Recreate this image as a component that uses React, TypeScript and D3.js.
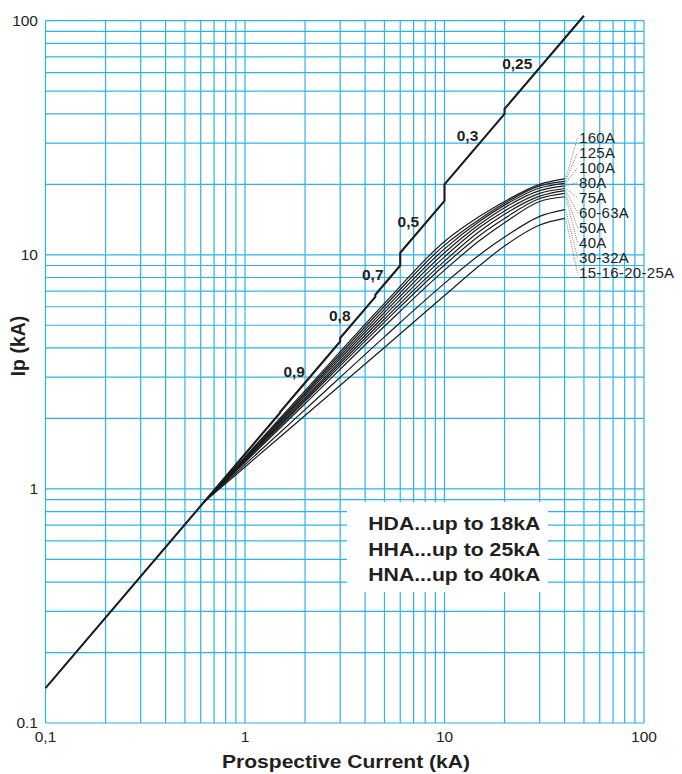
import React from "react";
import * as d3 from "d3";

// Prospective short-circuit current thresholds (kA) and the peak factor n = Ip / Irms in each band
const pfBreaks = [0.1, 1.5, 3, 4.5, 6, 10, 20, 50];
const pfPeakFactor = [1.41, 1.42, 1.47, 1.5, 1.7, 2.0, 2.1];
// Power-factor annotation for each band (first band is unlabelled)
const pfLabels = ["", "0,9", "0,8", "0,7", "0,5", "0,3", "0,25"];

// Cut-off characteristics: let-through peak current Ip (kA) vs prospective current (kA)
const fuseCurrents = [0.62, 1, 2, 5, 10, 15, 20, 30, 40];
const fuseRatings = ["160A", "125A", "100A", "80A", "75A", "60-63A", "50A", "40A", "30-32A", "15-16-20-25A"];
const peak160 = [0.875, 1.37, 2.63, 6.2, 11.4, 14.6, 16.9, 20.0, 21.1];
const peak125 = [0.875, 1.36, 2.58, 6.03, 11.0, 14.2, 16.6, 19.7, 20.6];
const peak100 = [0.875, 1.35, 2.54, 5.85, 10.6, 13.9, 16.3, 19.3, 20.2];
const peak80 = [0.875, 1.34, 2.5, 5.67, 10.2, 13.5, 15.9, 18.8, 19.7];
const peak75 = [0.875, 1.33, 2.45, 5.49, 9.8, 13.1, 15.4, 18.3, 19.2];
const peak63 = [0.875, 1.32, 2.41, 5.32, 9.4, 12.6, 14.9, 17.8, 18.8];
const peak50 = [0.875, 1.31, 2.37, 5.16, 9.05, 12.1, 14.3, 17.4, 18.3];
const peak40 = [0.875, 1.3, 2.31, 4.95, 8.6, 11.5, 13.7, 16.9, 17.7];
const peak32 = [0.875, 1.27, 2.18, 4.46, 7.55, 10.0, 11.9, 14.6, 15.6];
const peak25 = [0.875, 1.24, 2.06, 4.02, 6.7, 9.0, 10.9, 13.4, 14.3];
const fusePeaks = [peak160, peak125, peak100, peak80, peak75, peak63, peak50, peak40, peak32, peak25];

// Axis tick labels
const xTickValues = [0.1, 1, 10, 100];
const xTickLabels = ["0,1", "1", "10", "100"];
const yTickValues = [0.1, 1, 10, 100];
const yTickLabels = ["0.1", "1", "10", "100"];

const legendLines = ["HDA...up to 18kA", "HHA...up to 25kA", "HNA...up to 40kA"];

const W = 682;
const H = 774;
const FONT = "'Liberation Sans', Arial, Helvetica, sans-serif";
const INK = "#231f20";
const GRID = "#2cb4e8";

// Pixel nudges for the power-factor labels, relative to the geometric middle of each band
const pfLabelOffsets: [number, number][] = [
  [0, 0],
  [-16, 0],
  [-18, 4],
  [-15, 0],
  [-14, 0],
  [-7, -8],
  [-27, 7],
];

export default function App() {
  const x = d3.scaleLog().domain([0.1, 100]).range([45.5, 644]);
  const y = d3.scaleLog().domain([0.1, 100]).range([723, 20.7]);

  const gridTicks = x.ticks();
  const yGridTicks = y.ticks();

  // Stepped prospective peak line
  const stepPts: [number, number][] = [];
  for (let i = 0; i < pfPeakFactor.length; i++) {
    const a = pfBreaks[i];
    const b = pfBreaks[i + 1];
    stepPts.push([a, a * pfPeakFactor[i]]);
    stepPts.push([b, b * pfPeakFactor[i]]);
  }
  const stepLine = d3
    .line<[number, number]>()
    .x((d) => x(d[0]))
    .y((d) => y(d[1]));

  const fuseLine = d3
    .line<[number, number]>()
    .x((d) => x(d[0]))
    .y((d) => y(d[1]))
    .curve(d3.curveMonotoneX);

  const labelX = 579;
  const labelBase = 142.7;
  const labelStep = 15;

  return (
    <svg
      width={W}
      height={H}
      viewBox={`0 0 ${W} ${H}`}
      style={{ position: "absolute", left: 0, top: 0, display: "block", background: "#fff" }}
    >
      <rect width={W} height={H} fill="#fff" />

      {/* grid */}
      <g stroke={GRID} strokeWidth={1.2}>
        {gridTicks.map((t, i) => (
          <line key={"vx" + i} x1={x(t)} x2={x(t)} y1={y(100)} y2={y(0.1)} />
        ))}
        {yGridTicks.map((t, i) => (
          <line key={"hy" + i} x1={x(0.1)} x2={x(100)} y1={y(t)} y2={y(t)} />
        ))}
      </g>

      {/* legend panel */}
      <rect x={347} y={502} width={201} height={90} fill="#fff" />
      <g fontFamily={FONT} fontWeight="bold" fontSize={18.6} fill={INK}>
        {legendLines.map((s, i) => (
          <text key={s} x={368.3} y={530 + i * 25.5} textLength={172} lengthAdjust="spacingAndGlyphs">
            {s}
          </text>
        ))}
      </g>

      {/* fuse cut-off curves */}
      <g fill="none" stroke="#1b1b1b" strokeWidth={1.2} strokeLinejoin="round">
        {fusePeaks.map((vals, i) => (
          <path
            key={fuseRatings[i]}
            d={fuseLine(fuseCurrents.map((c, j) => [c, vals[j]] as [number, number])) || ""}
          />
        ))}
      </g>

      {/* leader lines to rating labels */}
      <g fill="none" stroke="#6e6e6e" strokeWidth={0.9} strokeDasharray="1 1.2">
        {fusePeaks.map((vals, i) => (
          <line
            key={"ld" + i}
            x1={x(fuseCurrents[fuseCurrents.length - 1]) + 1}
            y1={y(vals[vals.length - 1])}
            x2={labelX - 1.5}
            y2={labelBase + i * labelStep - 5}
          />
        ))}
      </g>
      <g fontFamily={FONT} fontSize={15} fill={INK}>
        {fuseRatings.map((r, i) => (
          <text key={r} x={labelX} y={labelBase + i * labelStep} letterSpacing={0.3}>
            {r}
          </text>
        ))}
      </g>

      {/* prospective peak current line */}
      <path
        d={stepLine(stepPts) || ""}
        fill="none"
        stroke="#1b1b1b"
        strokeWidth={2.1}
        strokeLinejoin="round"
      />

      {/* power factor labels */}
      <g fontFamily={FONT} fontWeight="bold" fontSize={15.5} fill={INK} textAnchor="middle">
        {pfLabels.map((lab, i) => {
          if (!lab) return null;
          const a = pfBreaks[i];
          const b = pfBreaks[i + 1];
          const gm = Math.sqrt(a * b);
          const [dx, dy] = pfLabelOffsets[i];
          return (
            <text key={lab} x={x(gm) + dx} y={y(gm * pfPeakFactor[i]) + dy}>
              {lab}
            </text>
          );
        })}
      </g>

      {/* axis tick labels */}
      <g fontFamily={FONT} fontSize={15.5} fill={INK}>
        {yTickValues.map((v, i) => (
          <text key={"yl" + i} x={38} y={y(v) + 5} textAnchor="end">
            {yTickLabels[i]}
          </text>
        ))}
        {xTickValues.map((v, i) => (
          <text key={"xl" + i} x={x(v)} y={741.5} textAnchor="middle">
            {xTickLabels[i]}
          </text>
        ))}
      </g>

      {/* axis titles */}
      <g fontFamily={FONT} fontWeight="bold" fill={INK}>
        <text x={346} y={768.3} fontSize={18.8} textAnchor="middle" textLength={248} lengthAdjust="spacingAndGlyphs">
          Prospective Current (kA)
        </text>
        <text
          transform="translate(25,346) rotate(-90)"
          fontSize={19.5}
          textAnchor="middle"
        >
          Ip (kA)
        </text>
      </g>
    </svg>
  );
}
